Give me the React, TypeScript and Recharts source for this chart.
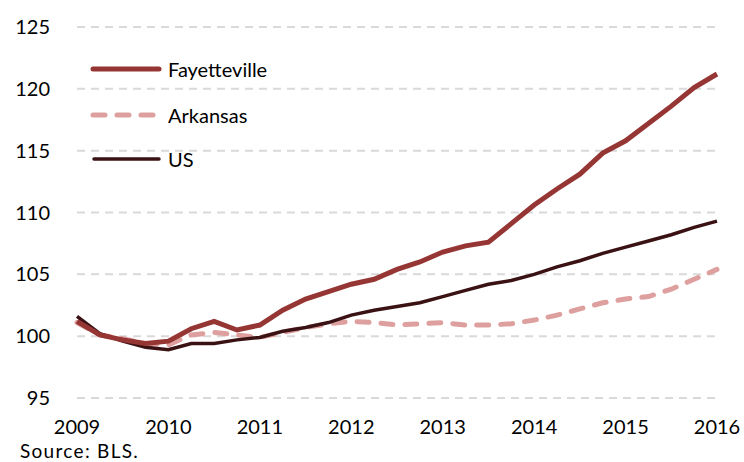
import * as React from "react";
import { LineChart, Line, XAxis, YAxis, CartesianGrid } from "recharts";

// quarterly index, 2009 = 100-ish
const quarters = [
  2009, 2009.25, 2009.5, 2009.75, 2010, 2010.25, 2010.5, 2010.75,
  2011, 2011.25, 2011.5, 2011.75, 2012, 2012.25, 2012.5, 2012.75,
  2013, 2013.25, 2013.5, 2013.75, 2014, 2014.25, 2014.5, 2014.75,
  2015, 2015.25, 2015.5, 2015.75, 2016,
];

const fayetteville = [
  101.2, 100.1, 99.7, 99.4, 99.6, 100.6, 101.2, 100.5,
  100.9, 102.1, 103.0, 103.6, 104.2, 104.6, 105.4, 106.0,
  106.8, 107.3, 107.6, 109.1, 110.6, 111.9, 113.1, 114.8,
  115.8, 117.2, 118.6, 120.1, 121.2,
];

const arkansas = [
  101.1, 100.1, 99.8, 99.4, 99.3, 100.1, 100.3, 100.1,
  99.9, 100.3, 100.7, 101.0, 101.2, 101.1, 100.9, 101.0,
  101.1, 100.9, 100.9, 101.0, 101.3, 101.7, 102.2, 102.7,
  103.0, 103.2, 103.8, 104.6, 105.4,
];

const us = [
  101.6, 100.2, 99.6, 99.1, 98.9, 99.4, 99.4, 99.7,
  99.9, 100.4, 100.7, 101.1, 101.7, 102.1, 102.4, 102.7,
  103.2, 103.7, 104.2, 104.5, 105.0, 105.6, 106.1, 106.7,
  107.2, 107.7, 108.2, 108.8, 109.3,
];

const yearTicks = [2009, 2010, 2011, 2012, 2013, 2014, 2015, 2016];
const valueTicks = [95, 100, 105, 110, 115, 120, 125];

const FONT = "Lato, 'Open Sans', sans-serif";
const FAY = "#963634";
const ARK = "#DDA09F";
const USC = "#3A1214";

const data = quarters.map((t, i) => ({
  t,
  Fayetteville: fayetteville[i],
  Arkansas: arkansas[i],
  US: us[i],
}));

function ChartLegend() {
  return (
    <svg width={220} height={130} style={{ position: "absolute", left: 85, top: 50 }}>
      <line x1={8} y1={19} x2={74} y2={19} stroke={FAY} strokeWidth={5} strokeLinecap="round" />
      <text x={83} y={19} dominantBaseline="central" fontSize={20} fontFamily={FONT} fill="#000">
        Fayetteville
      </text>
      <line x1={8} y1={65} x2={70} y2={65} stroke={ARK} strokeWidth={5} strokeLinecap="round" strokeDasharray="12 12" />
      <text x={83} y={65} dominantBaseline="central" fontSize={20} fontFamily={FONT} fill="#000">
        Arkansas
      </text>
      <line x1={9} y1={109} x2={74} y2={109} stroke={USC} strokeWidth={3.5} strokeLinecap="round" />
      <text x={83} y={109} dominantBaseline="central" fontSize={20} fontFamily={FONT} fill="#000">
        US
      </text>
    </svg>
  );
}

export default function App() {
  return (
    <div style={{ position: "absolute", left: 0, top: 0, width: 744, height: 462, background: "#fff", fontFamily: FONT }}>
      <LineChart width={744} height={462} data={data} margin={{ top: 27, right: 27, left: 0, bottom: 34 }}>
        <CartesianGrid vertical={false} stroke="#D9D9D9" strokeWidth={2} strokeDasharray="8 6" />
        <XAxis
          dataKey="t"
          type="number"
          domain={[2009, 2016]}
          ticks={yearTicks}
          axisLine={false}
          tickLine={false}
          tickSize={0}
          tickMargin={22}
          height={30}
          tick={{ fontSize: 20, fill: "#000", fontFamily: FONT }}
        />
        <YAxis
          domain={[95, 125]}
          ticks={valueTicks}
          axisLine={false}
          tickLine={false}
          tickSize={0}
          tickMargin={27}
          width={77}
          tick={{ fontSize: 20, fill: "#000", fontFamily: FONT }}
        />
        <Line dataKey="Arkansas" stroke={ARK} strokeWidth={5} strokeDasharray="12 12" strokeLinecap="round" dot={false} isAnimationActive={false} />
        <Line dataKey="US" stroke={USC} strokeWidth={3.5} dot={false} isAnimationActive={false} />
        <Line dataKey="Fayetteville" stroke={FAY} strokeWidth={5} dot={false} isAnimationActive={false} />
      </LineChart>
      <ChartLegend />
      <div style={{ position: "absolute", left: 20, top: 443, fontSize: 19, lineHeight: "16px", color: "#000", letterSpacing: 1.3 }}>
        Source: BLS.
      </div>
    </div>
  );
}
